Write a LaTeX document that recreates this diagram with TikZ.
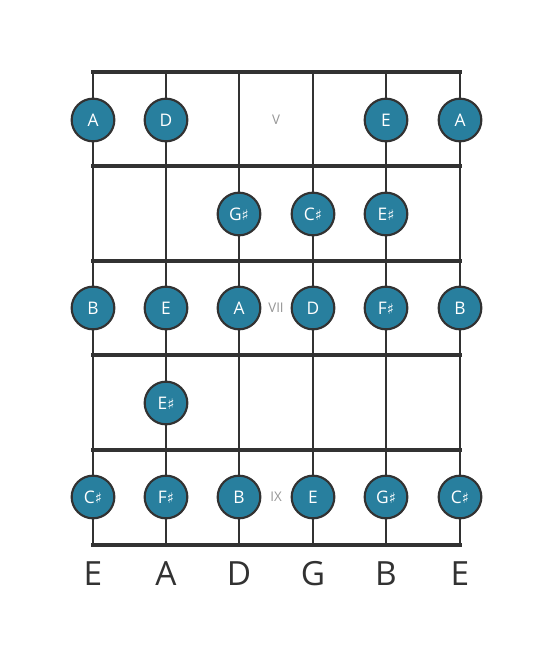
\documentclass[tikz,border=0pt]{standalone}
\usepackage{fontspec}
\setmainfont{Open Sans}
\newfontfamily\symfont{DejaVu Sans}
\usetikzlibrary{positioning}
\definecolor{noteblue}{RGB}{40,127,158}
\definecolor{boardgray}{RGB}{50,50,50}
\definecolor{labelgray}{RGB}{150,150,150}
\newcommand{\shrp}{{\symfont\scalebox{0.85}{♯}}}
\tikzset{
    note/.style={circle, draw=boardgray, line width=1.6pt, fill=noteblue, minimum size=32pt,
        inner sep=0pt, text=white, font=\fontsize{13}{13}\selectfont},
    fretline/.style={draw=boardgray, line width=3pt, line cap=rect},
    stringline/.style={draw=boardgray, line width=1.9pt},
    fretnum/.style={text=labelgray, font=\fontsize{10}{10}\selectfont},
    stringname/.style={text=boardgray, font=\fontsize{25}{25}\selectfont}
}

\begin{document}
\begin{tikzpicture}[x=0.75pt, y=-0.75pt]
    \fill[white] (0,0) rectangle (553,656);
    \useasboundingbox (0,0) rectangle (553,656);
    % strings
    \foreach \i/\x in {1/93, 2/166, 3/239, 4/313, 5/386, 6/460}{
        \coordinate (t\i) at (\x,72);
        \coordinate (b\i) at (\x,545);
        \draw[stringline] (t\i) -- (b\i);
    }
    % frets
    \foreach \j/\y in {0/72, 1/166, 2/261, 3/355, 4/450, 5/545}{
        \coordinate (fl\j) at (93,\y);
        \coordinate (fr\j) at (460,\y);
        \draw[fretline] (fl\j) -- (fr\j);
    }
    % fret numbers
    \node[fretnum] (fV) at (276,120) {V};
    \node[fretnum] (fVII) at (276,308) {VII};
    \node[fretnum] (fIX) at (276,497) {IX};
    % notes
    \node[note] (n1a) at (93,120) {A};
    \node[note] (n1b) at (166,120) {D};
    \node[note] (n1e) at (386,120) {E};
    \node[note] (n1f) at (460,120) {A};
    \node[note] (n2c) at (239,214) {G\shrp};
    \node[note] (n2d) at (313,214) {C\shrp};
    \node[note] (n2e) at (386,214) {E\shrp};
    \node[note] (n3a) at (93,308) {B};
    \node[note] (n3b) at (166,308) {E};
    \node[note] (n3c) at (239,308) {A};
    \node[note] (n3d) at (313,308) {D};
    \node[note] (n3e) at (386,308) {F\shrp};
    \node[note] (n3f) at (460,308) {B};
    \node[note] (n4b) at (166,403) {E\shrp};
    \node[note] (n5a) at (93,497) {C\shrp};
    \node[note] (n5b) at (166,497) {F\shrp};
    \node[note] (n5c) at (239,497) {B};
    \node[note] (n5d) at (313,497) {E};
    \node[note] (n5e) at (386,497) {G\shrp};
    \node[note] (n5f) at (460,497) {C\shrp};
    % string names
    \foreach \i/\x/\s in {1/93/E, 2/166/A, 3/239/D, 4/313/G, 5/386/B, 6/460/E}{
        \node[stringname] (s\i) at (\x,574) {\s};
    }
\end{tikzpicture}
\end{document}
